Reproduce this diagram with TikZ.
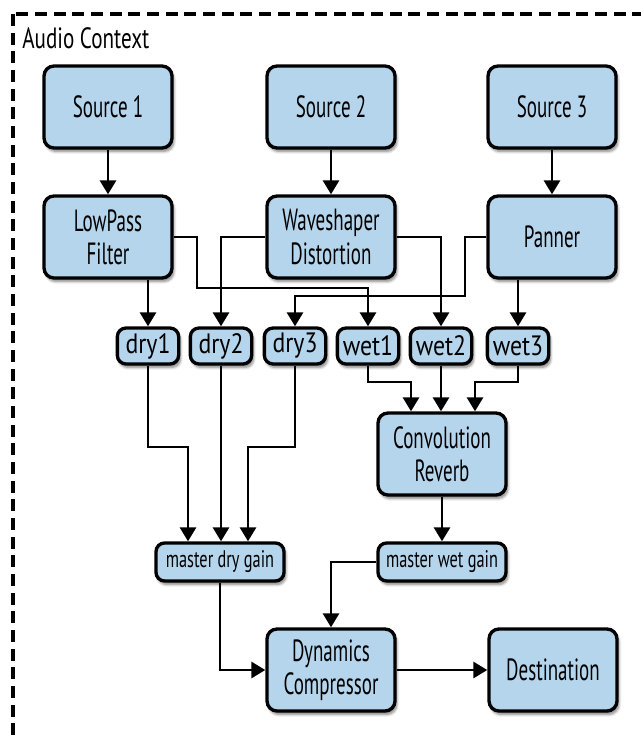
\documentclass[tikz,border=0pt]{standalone}
\usepackage{fontspec}
\setmainfont[FakeStretch=0.62]{PT Sans}
\newfontfamily\smallfnt[FakeStretch=0.85]{PT Sans}
\newfontfamily\gainfnt[FakeStretch=0.68]{PT Sans}
\newfontfamily\ctxfnt[FakeStretch=0.72]{PT Sans}
\usetikzlibrary{arrows.meta,shadows.blur,calc}
\definecolor{boxblue}{RGB}{180,213,236}
\tikzset{
  box/.style={draw=black, line width=2.5pt, fill=boxblue, rounded corners=7.5pt,
    align=center, inner sep=0pt,
    blur shadow={shadow xshift=1.4pt, shadow yshift=-2.6pt, shadow blur steps=6, shadow opacity=50},
    font=\fontsize{23}{25}\selectfont},
  bigbox/.style={box, minimum width=96pt, minimum height=61.5pt},
  smallbox/.style={box, rounded corners=6.5pt, minimum width=46pt, minimum height=27pt, font=\smallfnt\fontsize{21}{24}\selectfont},
  gainbox/.style={box, rounded corners=6.5pt, minimum width=96pt, minimum height=28.5pt, font=\gainfnt\fontsize{18}{20}\selectfont},
  arr/.style={line width=2.2pt, -{Triangle[width=12pt,length=10.5pt]}},
}
\begin{document}
\begin{tikzpicture}[x=0.75pt,y=-0.75pt]
\useasboundingbox (0,0) rectangle (641,735);
\begin{scope}
\clip (0,0) rectangle (641,735);
\draw[line width=2.4pt, dash pattern=on 9pt off 5pt] (13,14) rectangle (700,800);
\end{scope}
\node[anchor=base west, inner sep=0pt, font=\ctxfnt\fontsize{22}{24}\selectfont] (ctx) at (22,49) {Audio Context};

\node[bigbox] (s1) at (108,107) {Source 1};
\node[bigbox] (s2) at (331,107) {Source 2};
\node[bigbox] (s3) at (552,107) {Source 3};
\node[bigbox] (lp) at (108,237) {LowPass\\Filter};
\node[bigbox] (ws) at (331,237) {Waveshaper\\Distortion};
\node[bigbox] (pn) at (552,237) {Panner};
\node[smallbox] (dry1) at (148,346) {dry1};
\node[smallbox] (dry2) at (221,346) {dry2};
\node[smallbox] (dry3) at (295,346) {dry3};
\node[smallbox] (wet1) at (368,346) {wet1};
\node[smallbox] (wet2) at (441,346) {wet2};
\node[smallbox] (wet3) at (518,346) {wet3};
\node[bigbox] (conv) at (442,454) {Convolution\\Reverb};
\node[gainbox] (mdg) at (220,562) {master dry gain};
\node[gainbox] (mwg) at (442,562) {master wet gain};
\node[bigbox] (dyn) at (331,670) {Dynamics\\Compressor};
\node[bigbox] (dest) at (553,670) {Destination};

\coordinate (c1) at (197,288);
\coordinate (c2) at (465,296);
\coordinate (c3) at (188,447);
\coordinate (c4) at (248,447);
\coordinate (c5) at (411,382);
\coordinate (c6) at (475,382);

\draw[arr] (s1) -- (lp);
\draw[arr] (s2) -- (ws);
\draw[arr] (s3) -- (pn);
\draw[arr] (lp.south -| dry1) -- (dry1.north);
\draw[arr] (lp.east) -| (c1) -| (wet1.north);
\draw[arr] (ws.west) -| (dry2.north);
\draw[arr] (ws.east) -| (wet2.north);
\draw[arr] (pn.west) -| (c2) -| (dry3.north);
\draw[arr] (pn.south -| wet3) -- (wet3.north);
\draw[arr] (dry1.south) |- (c3) -- (c3 |- mdg.north);
\draw[arr] (dry2.south) -- (dry2.south |- mdg.north);
\draw[arr] (dry3.south) |- (c4) -- (c4 |- mdg.north);
\draw[arr] (wet1.south) |- (c5) -- (c5 |- conv.north);
\draw[arr] (wet2.south) -- (wet2.south |- conv.north);
\draw[arr] (wet3.south) |- (c6) -- (c6 |- conv.north);
\draw[arr] (conv) -- (mwg);
\draw[arr] (mdg.south) |- (dyn.west);
\draw[arr] (mwg.west) -| (dyn.north);
\draw[arr] (dyn) -- (dest);
\end{tikzpicture}
\end{document}
